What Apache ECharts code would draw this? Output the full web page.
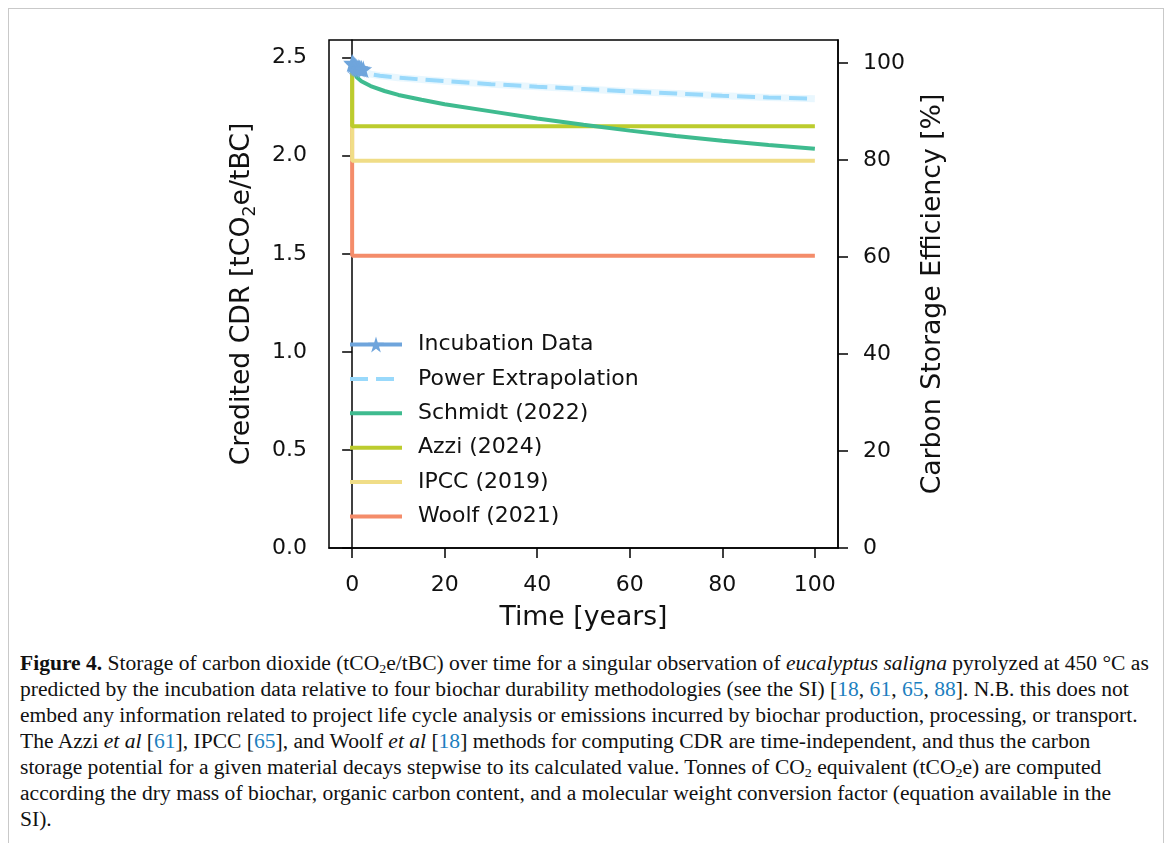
<!DOCTYPE html>
<html>
<head>
<meta charset="utf-8">
<script src="https://cdn.jsdelivr.net/npm/echarts@6/dist/echarts.min.js"></script>
<style>
html, body { margin: 0; padding: 0; width: 1171px; height: 843px; overflow: hidden; background: #fff; }
#frame { position: absolute; left: 8px; top: 8px; width: 1154px; height: 900px; border: 1.5px solid #c9c9c9; }
#chart { position: absolute; left: 0; top: 0; width: 1171px; height: 640px; }
#caption { position: absolute; left: 20px; top: 650px; font-family: "Liberation Serif", serif; font-size: 20px;
  line-height: 26px; color: #111; white-space: nowrap; transform-origin: 0 0; }
#caption a { color: #1d7fc0; text-decoration: none; }
#caption sub { font-size: 13px; line-height: 0; vertical-align: -3px; }
</style>
</head>
<body>
<div id="frame"></div>
<div id="chart"></div>
<div id="caption">
  <div><b>Figure 4.</b> Storage of carbon dioxide (tCO<sub>2</sub>e/tBC) over time for a singular observation of <i>eucalyptus saligna</i> pyrolyzed at 450 °C as</div>
  <div>predicted by the incubation data relative to four biochar durability methodologies (see the SI) [<a>18</a>, <a>61</a>, <a>65</a>, <a>88</a>]. N.B. this does not</div>
  <div id="l3">embed any information related to project life cycle analysis or emissions incurred by biochar production, processing, or transport.</div>
  <div>The Azzi <i>et al</i> [<a>61</a>], IPCC [<a>65</a>], and Woolf <i>et al</i> [<a>18</a>] methods for computing CDR are time-independent, and thus the carbon</div>
  <div>storage potential for a given material decays stepwise to its calculated value. Tonnes of CO<sub>2</sub> equivalent (tCO<sub>2</sub>e) are computed</div>
  <div>according the dry mass of biochar, organic carbon content, and a molecular weight conversion factor (equation available in the</div>
  <div>SI).</div>
</div>
<script>
// tick labels
const timeTicks = [0, 20, 40, 60, 80, 100];
const cdrTicks = [0, 0.5, 1.0, 1.5, 2.0, 2.5];
const effTicks = [0, 20, 40, 60, 80, 100];

// incubation points
const incubationT = [0, 0.1, 0.25, 0.5, 0.75, 1.0, 1.3, 1.6, 2.0, 2.4];
const incubationV = [2.474, 2.47, 2.466, 2.46, 2.455, 2.45, 2.447, 2.445, 2.443, 2.441];

// power extrapolation
const powerT = [0, 1, 2, 4, 6, 10, 20, 30, 40, 50, 60, 70, 80, 90, 100];
const powerV = [2.474, 2.44, 2.43, 2.416, 2.408, 2.398, 2.38, 2.365, 2.352, 2.34, 2.328, 2.317, 2.306, 2.297, 2.29];

// Schmidt (2022)
const schmidtT = [0, 0.5, 1, 2, 4, 7, 10, 15, 20, 30, 40, 50, 60, 70, 80, 90, 100];
const schmidtV = [2.474, 2.43, 2.40, 2.38, 2.355, 2.33, 2.31, 2.285, 2.262, 2.226, 2.19, 2.158, 2.128, 2.1, 2.076, 2.055, 2.036];

// stepwise methods
const stepT = [0, 0, 100];
const azziV = [2.474, 2.15, 2.15];
const ipccV = [2.474, 1.975, 1.975];
const woolfV = [2.474, 1.49, 1.49];

const zip = (xs, ys) => xs.map((x, i) => [x, ys[i]]);

const font = 'DejaVu Sans';
const star = 'path://M50,0 L61,35 L98,35 L68,57 L79,91 L50,70 L21,91 L32,57 L2,35 L39,35 Z';

const myChart = echarts.init(document.getElementById('chart'));

function lineSeries(name, data, color, extra) {
  return Object.assign({
    name: name,
    type: 'line',
    data: data,
    symbol: 'none',
    showSymbol: false,
    lineStyle: { color: color, width: 4 },
    itemStyle: { color: color },
    emphasis: { disabled: true }
  }, extra || {});
}

const axisBase = {
  axisLine: { show: true, lineStyle: { color: '#000', width: 1.5 } },
  splitLine: { show: false },
  nameLocation: 'middle',
  nameTextStyle: { fontFamily: font, fontSize: 26.7, color: '#111' }
};

const option = {
  animation: false,
  grid: { left: 329, top: 40, width: 509, height: 508, show: true, borderColor: '#000', borderWidth: 1.5 },
  legend: {
    // only the incubation entry keeps its marker
    data: [
      { name: 'Incubation Data', itemStyle: { opacity: 1 } },
      'Power Extrapolation', 'Schmidt (2022)', 'Azzi (2024)', 'IPCC (2019)', 'Woolf (2021)'
    ],
    orient: 'vertical',
    left: 348,
    top: 331.5,
    padding: 0,
    itemWidth: 52,
    itemHeight: 20,
    itemGap: 8.4,
    selectedMode: false,
    itemStyle: { opacity: 0 },
    lineStyle: { width: 4 },
    textStyle: { fontFamily: font, fontSize: 22, lineHeight: 26, color: '#111', padding: [0, 0, 0, 11] }
  },
  xAxis: Object.assign({}, axisBase, {
    type: 'value',
    min: -5,
    max: 105,
    name: 'Time [years]',
    nameGap: 57,
    axisTick: { show: true, length: 10, customValues: timeTicks, lineStyle: { color: '#000', width: 1.5 } },
    axisLabel: { customValues: timeTicks, margin: 26, fontFamily: font, fontSize: 22, color: '#111' }
  }),
  yAxis: [
    Object.assign({}, axisBase, {
      type: 'value',
      min: 0,
      max: 2.59,
      name: '{a|Credited CDR [tCO}{s|2}{a|e/tBC]}',
      nameGap: 70,
      nameTextStyle: {
        fontFamily: font, color: '#111',
        rich: {
          a: { fontFamily: font, fontSize: 26.7, lineHeight: 34, color: '#111', verticalAlign: 'middle' },
          s: { fontFamily: font, fontSize: 17.5, lineHeight: 17, color: '#111', verticalAlign: 'bottom' }
        }
      },
      axisTick: { show: true, length: 10, customValues: cdrTicks, lineStyle: { color: '#000', width: 1.5 } },
      axisLabel: { customValues: cdrTicks, margin: 22, fontFamily: font, fontSize: 22, color: '#111',
        formatter: v => v.toFixed(1) }
    }),
    Object.assign({}, axisBase, {
      type: 'value',
      position: 'right',
      min: 0,
      max: 104.7,
      alignTicks: false,
      name: 'Carbon Storage Efficiency [%]',
      nameRotate: 90,
      nameGap: 82,
      axisTick: { show: true, length: 10, customValues: effTicks, lineStyle: { color: '#000', width: 1.5 } },
      axisLabel: { customValues: effTicks, margin: 25, fontFamily: font, fontSize: 22, color: '#111' }
    })
  ],
  series: [
    lineSeries('Woolf (2021)', zip(stepT, woolfV), '#f48c6a'),
    lineSeries('IPCC (2019)', zip(stepT, ipccV), '#f0dd87'),
    lineSeries('Azzi (2024)', zip(stepT, azziV), '#bccc2e'),
    lineSeries('Schmidt (2022)', zip(schmidtT, schmidtV), '#3fbb8f'),
    lineSeries('halo', zip(powerT, powerV), '#99d9fb', { lineStyle: { color: '#99d9fb', width: 7, opacity: 0.22 } }),
    lineSeries('Power Extrapolation', zip(powerT, powerV), '#99d9fb',
      { lineStyle: { color: '#99d9fb', width: 4, type: [18, 8] } }),
    lineSeries('Incubation Data', zip(incubationT, incubationV), '#6fa5dc',
      { symbol: star, symbolSize: 18, showSymbol: true })
  ]
};

myChart.setOption(option);

// fit caption lines to the reference width
const cap = document.getElementById('caption');
const w = document.getElementById('l3').scrollWidth;
cap.style.transform = 'scaleX(' + (1129 / w) + ')';
</script>
</body>
</html>
